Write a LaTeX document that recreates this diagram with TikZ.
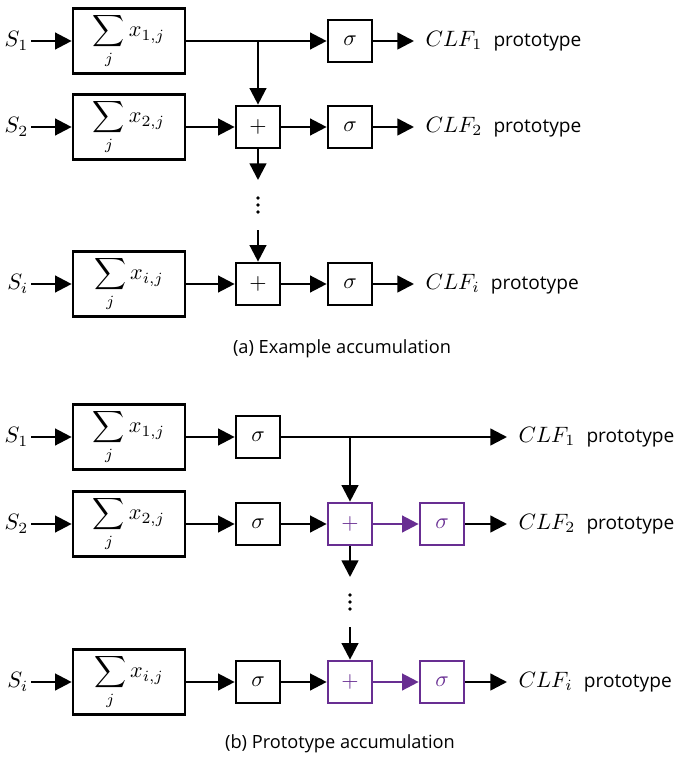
\documentclass[tikz,border=0pt]{standalone}
\usepackage{fontspec}
\newfontfamily\lab{Open Sans}
\usetikzlibrary{arrows.meta}
\definecolor{myp}{RGB}{104,46,146}
\tikzset{
  sumbox/.style={draw, line width=1.2pt, minimum width=50.4pt, minimum height=29.25pt, inner sep=0pt},
  sbox/.style={draw, line width=1.2pt, minimum width=19.8pt, minimum height=18.9pt, inner sep=0pt},
  pbox/.style={sbox, draw=myp, text=myp},
  arr/.style={line width=1.1pt, -{Triangle[length=7.5pt,width=7.5pt]}},
  parr/.style={arr, draw=myp},
  slab/.style={anchor=east, inner sep=1pt},
  clf/.style={anchor=west, inner xsep=5pt, inner ysep=0pt},
  captext/.style={font=\lab\fontsize{8.2pt}{10pt}\selectfont},
}
\newcommand{\proto}{\hspace{5pt}{\lab\fontsize{8.6pt}{10pt}\selectfont prototype}}
\begin{document}
\begin{tikzpicture}[x=0.45pt,y=-0.45pt]
\useasboundingbox (0,0) rectangle (676,760);
% ---------------- (a) ----------------
\node[slab] (s1a) at (31,41) {$S_1$};
\node[slab] (s2a) at (31,127) {$S_2$};
\node[slab] (sia) at (31,284) {$S_i$};
\node[sumbox] (sum1a) at (129,41) {$\displaystyle\sum_j x_{1,j}$};
\node[sumbox] (sum2a) at (129,127) {$\displaystyle\sum_j x_{2,j}$};
\node[sumbox] (sumia) at (129,284) {$\displaystyle\sum_j x_{i,j}$};
\node[sbox] (plus2a) at (258,127) {$+$};
\node[sbox] (plusia) at (258,284) {$+$};
\node[sbox] (sig1a) at (350,41) {$\sigma$};
\node[sbox] (sig2a) at (350,127) {$\sigma$};
\node[sbox] (sigia) at (350,284) {$\sigma$};
\node[clf] (c1a) at (414,41) {$CLF_1$\proto};
\node[clf] (c2a) at (414,127) {$CLF_2$\proto};
\node[clf] (cia) at (414,284) {$CLF_i$\proto};
\coordinate (j1a) at (258,41);
\coordinate (ta) at (258,180);
\coordinate (ua) at (258,230);
\draw[arr] (s1a) -- (sum1a);
\draw[arr] (s2a) -- (sum2a);
\draw[arr] (sia) -- (sumia);
\draw[arr] (sum1a) -- (sig1a);
\draw[arr] (j1a) -- (plus2a);
\draw[arr] (sum2a) -- (plus2a);
\draw[arr] (plus2a) -- (sig2a);
\draw[arr] (plus2a) -- (ta);
\draw[arr] (ua) -- (plusia);
\draw[arr] (sumia) -- (plusia);
\draw[arr] (plusia) -- (sigia);
\draw[arr] (sig1a) -- (c1a.west);
\draw[arr] (sig2a) -- (c2a.west);
\draw[arr] (sigia) -- (cia.west);
\fill (258,198) circle (0.8pt) (258,205) circle (0.8pt) (258,212) circle (0.8pt);
\node[captext] (capa) at (342,349) {(a) Example accumulation};
% ---------------- (b) ----------------
\node[slab] (s1b) at (31,437) {$S_1$};
\node[slab] (s2b) at (31,524) {$S_2$};
\node[slab] (sib) at (31,682) {$S_i$};
\node[sumbox] (sum1b) at (129,437) {$\displaystyle\sum_j x_{1,j}$};
\node[sumbox] (sum2b) at (129,524) {$\displaystyle\sum_j x_{2,j}$};
\node[sumbox] (sumib) at (129,682) {$\displaystyle\sum_j x_{i,j}$};
\node[sbox] (sig1b) at (258,437) {$\sigma$};
\node[sbox] (sig2b) at (258,524) {$\sigma$};
\node[sbox] (sigib) at (258,682) {$\sigma$};
\node[pbox] (plus2b) at (350,524) {$+$};
\node[pbox] (plusib) at (350,682) {$+$};
\node[pbox] (psig2b) at (442,524) {$\sigma$};
\node[pbox] (psigib) at (442,682) {$\sigma$};
\node[clf] (c1b) at (507,437) {$CLF_1$\proto};
\node[clf] (c2b) at (507,524) {$CLF_2$\proto};
\node[clf] (cib) at (507,682) {$CLF_i$\proto};
\coordinate (j1b) at (350,437);
\coordinate (tb) at (350,577);
\coordinate (ub) at (350,627);
\draw[arr] (s1b) -- (sum1b);
\draw[arr] (s2b) -- (sum2b);
\draw[arr] (sib) -- (sumib);
\draw[arr] (sum1b) -- (sig1b);
\draw[arr] (sum2b) -- (sig2b);
\draw[arr] (sumib) -- (sigib);
\draw[arr] (sig1b) -- (c1b.west);
\draw[arr] (j1b) -- (plus2b);
\draw[arr] (sig2b) -- (plus2b);
\draw[arr] (sigib) -- (plusib);
\draw[parr] (plus2b) -- (psig2b);
\draw[parr] (plusib) -- (psigib);
\draw[arr] (psig2b) -- (c2b.west);
\draw[arr] (psigib) -- (cib.west);
\draw[arr] (plus2b) -- (tb);
\draw[arr] (ub) -- (plusib);
\fill (350,595) circle (0.8pt) (350,602) circle (0.8pt) (350,609) circle (0.8pt);
\node[captext] (capb) at (340,744) {(b) Prototype accumulation};
\end{tikzpicture}
\end{document}
